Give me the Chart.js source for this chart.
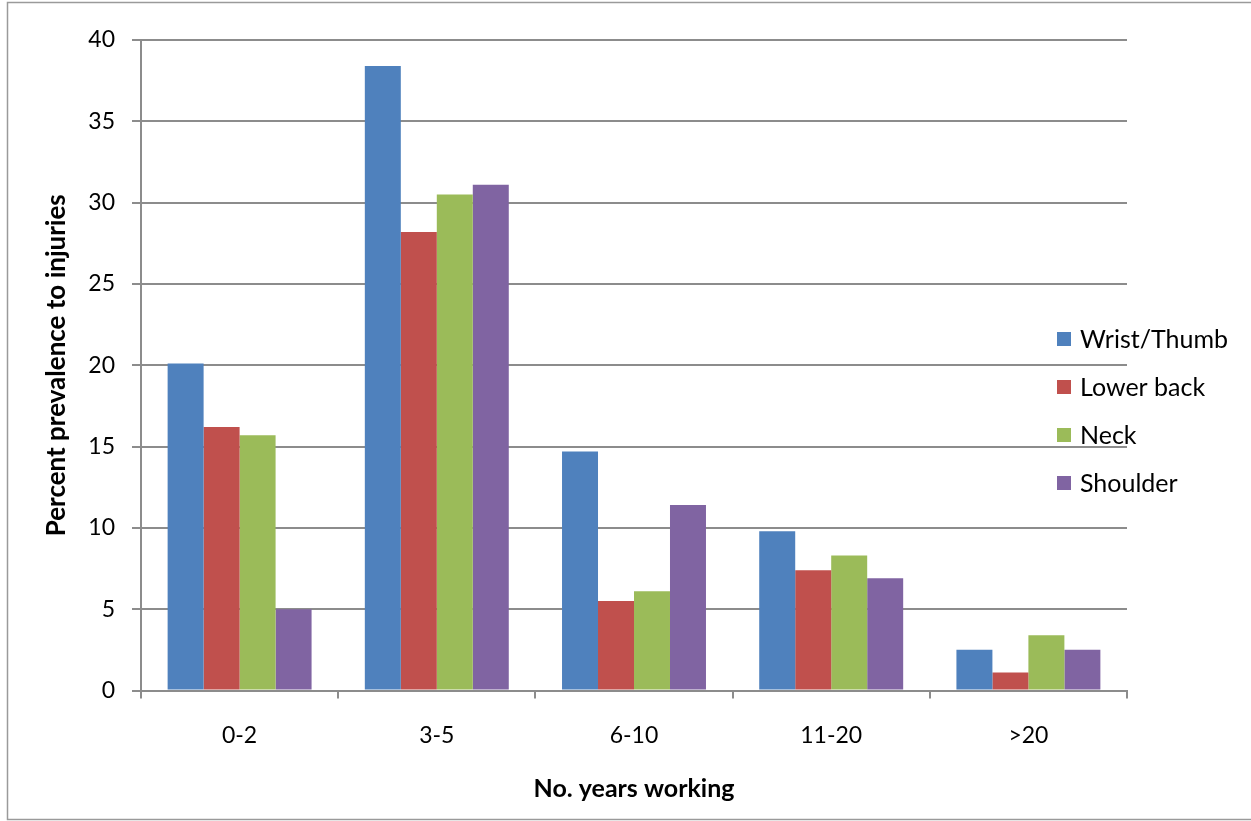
<!DOCTYPE html>
<html>
<head>
<meta charset="utf-8">
<title>Percent prevalence to injuries by years working</title>
<script src="https://cdn.jsdelivr.net/npm/chart.js@4.4.1/dist/chart.umd.min.js"></script>
<style>
  html, body { margin: 0; padding: 0; background: #ffffff; }
  #wrap { position: relative; width: 1251px; height: 821px; }
  canvas { display: block; }
</style>
</head>
<body>
<div id="wrap"><canvas id="chart" width="1251" height="821"></canvas></div>
<script>
// Years-of-work groups on the x axis
const categories = ['0-2', '3-5', '6-10', '11-20', '>20'];

// Percent prevalence for each body region
const wristThumb = [20.1, 38.4, 14.7, 9.8, 2.5];
const lowerBack  = [16.2, 28.2, 5.5, 7.4, 1.1];
const neck       = [15.7, 30.5, 6.1, 8.3, 3.4];
const shoulder   = [5.0, 31.1, 11.4, 6.9, 2.5];

const seriesNames = ['Wrist/Thumb', 'Lower back', 'Neck', 'Shoulder'];
const seriesColors = ['#4F81BD', '#C0504D', '#9BBB59', '#8064A2'];

const yTicks = [0, 5, 10, 15, 20, 25, 30, 35, 40];

const FONT = 'Lato, "Open Sans", "DejaVu Sans", sans-serif';
const GRID = '#8c8c8c';

// White page with a thin frame on the left, top and bottom edges
const framePlugin = {
  id: 'frame',
  beforeDraw(chart) {
    const ctx = chart.ctx;
    ctx.save();
    ctx.fillStyle = '#ffffff';
    ctx.fillRect(0, 0, chart.width, chart.height);
    ctx.strokeStyle = '#9a9a9a';
    ctx.lineWidth = 1.5;
    ctx.beginPath();
    ctx.moveTo(chart.width + 2, 2.5);
    ctx.lineTo(7.5, 2.5);
    ctx.lineTo(7.5, 819.5);
    ctx.lineTo(chart.width + 2, 819.5);
    ctx.stroke();
    ctx.restore();
  }
};

// Legend column at the right of the plot, built from the datasets
const sideLegend = {
  id: 'sideLegend',
  afterDraw(chart) {
    const ctx = chart.ctx;
    const x0 = 1057, y0 = 339, step = 48, box = 14;
    ctx.save();
    ctx.font = '25px ' + FONT;
    ctx.textBaseline = 'middle';
    ctx.textAlign = 'left';
    chart.data.datasets.forEach((ds, i) => {
      const y = y0 + i * step;
      ctx.fillStyle = ds.backgroundColor;
      ctx.fillRect(x0, y - box / 2, box, box);
      ctx.fillStyle = '#000000';
      ctx.fillText(ds.label, 1080, y + 1);
    });
    ctx.restore();
  }
};

const seriesValues = [wristThumb, lowerBack, neck, shoulder];

const chart = new Chart(document.getElementById('chart'), {
  type: 'bar',
  data: {
    labels: categories,
    datasets: seriesValues.map((vals, i) => ({
      label: seriesNames[i],
      data: vals,
      backgroundColor: seriesColors[i],
      borderWidth: 0,
      barPercentage: 1.0,
      categoryPercentage: 0.73
    }))
  },
  options: {
    responsive: false,
    animation: false,
    devicePixelRatio: 1,
    layout: { padding: { left: 20, right: 124, top: 40, bottom: 10 } },
    plugins: {
      legend: { display: false },
      tooltip: { enabled: false }
    },
    scales: {
      x: {
        grid: {
          offset: true,
          drawOnChartArea: false,
          drawTicks: true,
          tickLength: 8,
          color: GRID,
          lineWidth: 2
        },
        border: { display: true, color: GRID, width: 2 },
        ticks: {
          color: '#000000',
          font: { family: FONT, size: 23 },
          padding: 23,
          maxRotation: 0
        },
        title: {
          display: true,
          text: 'No. years working',
          color: '#000000',
          font: { family: FONT, size: 25, weight: 'bold' },
          padding: { top: 0, bottom: 7 }
        },
        afterFit(scale) { scale.height = 120.5; }
      },
      y: {
        min: 0,
        max: 40,
        afterBuildTicks(scale) { scale.ticks = yTicks.map(v => ({ value: v })); },
        grid: {
          color: GRID,
          lineWidth: 2,
          drawTicks: true,
          tickLength: 9
        },
        border: { display: true, color: GRID, width: 2 },
        ticks: {
          color: '#000000',
          font: { family: FONT, size: 23 },
          padding: 17
        },
        title: {
          display: true,
          text: 'Percent prevalence to injuries',
          color: '#000000',
          font: { family: FONT, size: 26, weight: 'bold' },
          padding: { top: 21, bottom: 0 }
        },
        afterFit(scale) { scale.width = 121; }
      }
    }
  },
  plugins: [framePlugin, sideLegend]
});
</script>
</body>
</html>
